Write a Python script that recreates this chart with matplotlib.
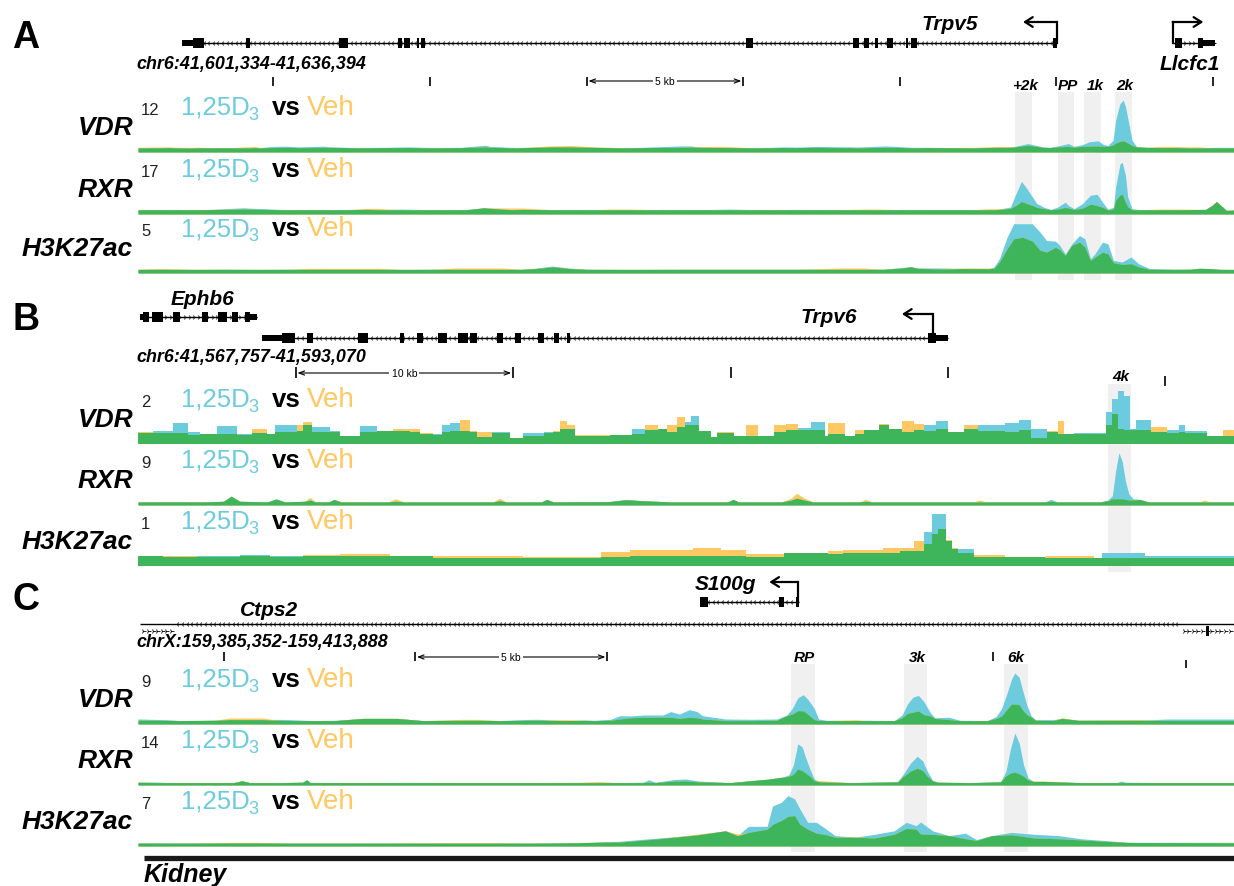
import numpy as np
import matplotlib
matplotlib.use('Agg')
import matplotlib.pyplot as plt
from matplotlib.patches import Rectangle

plt.rcParams['font.family'] = ['Liberation Sans', 'DejaVu Sans']

W, H = 1234, 887
CYAN = '#6ccbdc'
ORANGE = '#ffc862'
GREEN = '#3fb55b'
BAND = '#f0f0f0'

# ------------------------------------------------------------------ data
TRACK_NAMES = ['VDR', 'RXR', 'H3K27ac']
SCALE_A = [12, 17, 5]
SCALE_B = [2, 9, 1]
SCALE_C = [9, 14, 7]

COORD_A = 'chr6:41,601,334-41,636,394'
COORD_B = 'chr6:41,567,757-41,593,070'
COORD_C = 'chrX:159,385,352-159,413,888'

# positions are % of the browser window
A_VDR_X = [0, 1.9, 2.8, 3.5, 4.8, 5.5, 6.1, 8.0, 10.3, 10.7, 11.0, 12.3, 13.5, 14.6, 16.2,
           16.9, 17.5, 20.0, 22.5, 24.7, 27.0, 29.5, 31.2, 31.7, 32.1, 34.5, 37.7, 39.5, 41.6,
           44.0, 46.5, 49.5, 50.4, 51.7, 53.6, 56.0, 59.1, 60.1, 62.0, 63.0, 65.0, 65.6, 68.2,
           69.1, 70.7, 72.0, 75.3, 76.2, 78.5, 79.5,
           80.0, 81.2, 82.0, 82.6, 83.2, 83.9, 84.9, 85.4, 86.2, 86.8, 87.6, 88.1, 88.5, 88.96,
           89.2, 89.6, 89.9, 90.1, 90.4, 90.7, 91.1, 92.0, 93.2, 94.6, 95.9, 96.8, 98.0, 100]
A_VDR_D3 = [0.9, 0.9, 0.95, 0.9, 0.85, 0.9, 0.9, 0.95, 0.9, 0.95, 0.9, 1.2, 1.25, 1.1, 1.2,
            1.25, 1.1, 0.95, 1.0, 1.1, 0.95, 1.0, 1.35, 1.45, 1.2, 0.95, 1.1, 1.1, 1.0, 0.9,
            1.05, 1.3, 1.3, 1.0, 0.95, 0.9, 1.1, 1.05, 1.2, 1.15, 1.1, 1.05, 1.3, 1.2, 1.0,
            1.0, 0.9, 0.9, 1.0, 1.0,
            1.2, 1.8, 1.4, 1.1, 1.0, 1.3, 1.8, 1.2, 1.6, 2.2, 2.4, 1.6, 1.4, 2.5, 6.8,
            10.4, 11.1, 9.7, 6.1, 2.5, 1.2, 1.0, 0.95, 0.95, 0.9, 0.9, 1.0, 1.0]
A_VDR_VEH = [1.0, 1.08, 1.1, 1.0, 1.0, 1.05, 0.95, 0.9, 1.15, 1.2, 1.0, 0.95, 1.0, 0.95, 0.95,
             1.0, 1.0, 0.9, 0.95, 0.95, 0.9, 0.95, 1.05, 1.1, 1.0, 0.9, 1.3, 1.4, 1.1, 0.95,
             0.95, 1.0, 1.05, 1.2, 1.2, 0.9, 0.95, 0.95, 1.0, 0.95, 0.95, 0.9, 1.0, 1.0, 0.9,
             0.95, 1.0, 1.0, 1.2, 1.15,
             1.1, 1.45, 1.2, 1.0, 0.95, 1.1, 1.2, 1.05, 1.2, 1.25, 1.3, 1.2, 1.2, 1.5, 1.9,
             2.3, 2.4, 2.2, 1.8, 1.4, 1.1, 1.0, 1.2, 1.2, 1.1, 1.1, 0.9, 0.9]

A_RXR_X = [0, 3, 6, 9.7, 10.0, 13, 16, 19, 20.8, 21.7, 24, 27, 30, 31.6, 31.8, 34.1, 35.1, 38,
           41, 43.2, 44.9, 48, 51, 54, 57, 60, 63, 66.3, 67.5, 70, 73, 76, 77.6, 78.2, 79.6,
           80.1, 80.6, 81.0, 81.6, 82.0, 82.7, 83.3, 83.9, 84.6, 84.9, 85.4, 86.2, 86.9, 87.5,
           88.0, 88.5, 89.0, 89.2, 89.6, 89.8, 90.1, 90.3, 90.7, 91.5, 93.0, 95.3, 97.4, 98.0,
           98.4, 98.8, 99.3, 100]
A_RXR_D3 = [1.3, 1.4, 1.3, 1.9, 1.8, 1.4, 1.3, 1.4, 1.4, 1.3, 1.5, 1.3, 1.4, 1.9, 1.8, 1.3, 1.4,
            1.3, 1.4, 1.3, 1.3, 1.4, 1.3, 1.5, 1.3, 1.4, 1.3, 1.3, 1.3, 1.4, 1.3, 1.3, 1.3, 1.3,
            2.1, 6.1, 9.9, 8.2, 5.2, 3.2, 2.0, 1.4, 2.1, 3.6, 2.6, 1.6, 3.2, 5.7, 6.0, 3.6, 1.4,
            2.1, 8.2, 15.2, 15.7, 11.7, 5.2, 1.6, 1.3, 1.3, 1.3, 1.4, 2.6, 3.8, 2.6, 1.1, 1.2]
A_RXR_VEH = [1.3, 1.3, 1.4, 1.5, 1.5, 1.3, 1.4, 1.3, 1.7, 1.7, 1.3, 1.4, 1.3, 1.9, 1.9, 1.8,
             1.8, 1.3, 1.3, 1.5, 1.5, 1.3, 1.3, 1.3, 1.4, 1.3, 1.3, 1.5, 1.5, 1.3, 1.3, 1.3,
             1.6, 1.6, 1.7, 2.6, 3.8, 3.3, 2.6, 2.0, 1.6, 1.3, 1.5, 2.0, 1.8, 1.4, 1.8, 3.0,
             2.6, 2.0, 1.3, 1.5, 4.2, 5.8, 6.0, 3.6, 2.2, 1.3, 1.3, 1.5, 1.5, 1.4, 2.7, 3.9,
             2.7, 1.2, 1.2]

A_H3_X = [0, 2, 5, 8, 11, 14, 15.6, 22.1, 24, 27, 28.9, 33.1, 35, 36.4, 37.8, 39.3, 41, 45, 50,
          55, 60, 64.2, 66.2, 68, 69.8, 70.5, 71.1, 73.3, 75.3, 77.6, 78.1, 78.6, 79.3, 79.9,
          80.7, 81.6, 82.3, 82.9, 83.7, 84.1, 84.6, 85.2, 85.9, 86.4, 86.9, 87.3, 88.0, 88.5,
          89.0, 89.8, 90.6, 91.3, 92.3, 94.5, 96.0, 96.8, 97.8, 98.6, 100]
A_H3_D3 = [0.32, 0.33, 0.32, 0.33, 0.32, 0.33, 0.33, 0.33, 0.32, 0.33, 0.33, 0.33, 0.33, 0.45,
           0.62, 0.45, 0.33, 0.32, 0.33, 0.33, 0.33, 0.33, 0.33, 0.34, 0.5, 0.58, 0.45, 0.45,
           0.4, 0.38, 0.55, 1.28, 3.2, 4.4, 4.4, 4.4, 3.65, 2.9, 2.85, 2.47, 1.7, 2.6, 3.35,
           3.05, 1.28, 1.7, 2.76, 2.6, 1.13, 0.98, 1.43, 0.83, 0.4, 0.33, 0.35, 0.42, 0.4,
           0.33, 0.32]
A_H3_VEH = [0.35, 0.40, 0.34, 0.33, 0.33, 0.33, 0.42, 0.42, 0.33, 0.33, 0.45, 0.45, 0.33,
            0.40, 0.55, 0.40, 0.33, 0.33, 0.33, 0.33, 0.33, 0.45, 0.45, 0.33, 0.45, 0.55,
            0.42, 0.35, 0.45, 0.45, 0.42, 0.98, 2.17, 3.05, 3.2, 2.85, 2.03, 1.87, 2.3, 2.1,
            1.57, 2.47, 2.76, 2.3, 1.13, 1.4, 1.87, 1.7, 0.92, 0.77, 0.83, 0.55, 0.33, 0.33,
            0.33, 0.42, 0.4, 0.33, 0.32]

# panel B VDR and H3K27ac are drawn as steps (bin left edges, last value repeated)
B_VDR_X = [0, 1.4, 3.2, 4.6, 5.7, 7.2, 9.0, 10.4, 11.8, 12.5, 14.5, 15.1, 15.9, 17.5, 18.4,
           20.3, 21.8, 23.3, 24.8, 25.7, 26.9, 27.7, 28.5, 29.4, 30.3, 30.9, 32.3, 33.9, 35.1,
           37.0, 37.9, 38.5, 39.1, 39.9, 43.1, 45.1, 46.3, 47.4, 48.3, 49.2, 49.9, 50.5, 51.2,
           52.3, 52.8, 54.4, 55.5, 56.6, 58.0, 59.1, 60.2, 61.4, 62.7, 63.0, 64.5, 65.4, 66.2,
           67.6, 68.5, 69.7, 70.8, 71.7, 72.8, 73.9, 75.4, 76.6, 79.1, 80.4, 81.5, 82.9, 83.9,
           84.5, 85.4, 88.3, 88.9, 89.4, 90.0, 90.5, 91.1, 92.4, 93.9, 95.0, 95.5, 97.5, 99.0,
           100]
B_VDR_D3 = [.40, .48, .75, .42, .36, .64, .36, .39, .36, .67, .45, .67, .61, .48, .30, .64,
            .48, .48, .42, .36, .36, .67, .76, .45, .42, .24, .42, .21, .40, .42, .42, .55,
            .55, .28, .33, .55, .49, .55, .42, .61, .79, 1.0, .48, .24, .40, .30, .30, .27,
            .42, .49, .58, .79, .30, .36, .30, .36, .49, .67, .55, .42, .49, .67, .82, .42,
            .55, .67, .76, .85, .55, .42, .36, .36, .40, 1.14, 1.6, 1.88, 1.7, .55, .85, .42,
            .49, .67, .45, .30, .30, .30]
B_VDR_VEH = [.42, .40, .40, .33, .36, .36, .33, .55, .36, .42, .67, .79, .42, .42, .28, .42,
             .46, .55, .55, .39, .33, .42, .48, .85, .48, .42, .40, .21, .30, .40, .48, .82,
             .67, .33, .33, .36, .67, .55, .67, .97, .67, .69, .45, .24, .42, .30, .67, .30,
             .67, .70, .49, .49, .30, .75, .30, .49, .49, .73, .55, .82, .73, .45, .55, .42,
             .67, .45, .42, .49, .21, .45, .82, .36, .36, .67, 1.07, .55, .49, .49, .49, .61,
             .40, .42, .40, .30, .49, .49]

B_RXR_X = [0, 3, 6, 7.8, 8.5, 9.3, 11.8, 12.6, 13.4, 15.2, 15.7, 16.2, 17.4, 17.9, 18.5, 22.8,
           23.5, 24.3, 32.4, 33.0, 33.6, 36.8, 37.3, 37.9, 43.0, 44.5, 46.0, 48.5, 53.8, 54.3,
           54.8, 58.7, 59.6, 60.1, 60.8, 61.6, 65.8, 66.4, 67.0, 76.2, 76.8, 77.4, 82.7, 83.3,
           83.9, 87.8, 88.5, 88.9, 89.2, 89.5, 89.8, 90.1, 90.4, 90.8, 91.4, 92.2, 96.8, 97.3,
           97.8, 100]
B_RXR_D3 = [.5, .55, .5, .6, 1.45, .6, .5, 1.0, .5, .6, .8, .55, .5, .9, .5, .5, .6, .5, .5,
            .7, .5, .5, .9, .5, .55, .9, .7, .5, .5, .9, .5, .5, .8, 1.1, .8, .5, .5, .6, .5,
            .5, .5, .5, .5, .9, .5, .5, .8, 1.5, 5.5, 8.4, 7.0, 3.8, 1.8, 1.0, .9, .5, .5, .5,
            .5, .5]
B_RXR_VEH = [.5, .5, .5, .6, 1.4, .6, .5, .95, .5, .6, 1.2, .5, .5, .9, .55, .5, 1.0, .5, .5,
             1.1, .5, .5, .9, .5, .55, .85, .7, .5, .5, .9, .5, .5, 1.1, 1.9, 1.1, .5, .5, .9,
             .5, .5, .8, .5, .5, .6, .5, .5, .7, 1.0, 1.0, 1.0, 1.0, .9, .8, .8, .9, .5, .5,
             .8, .5, .5]

B_H3_X = [0, 2.3, 5.4, 9.3, 12.0, 15.1, 18.4, 23.0, 26.9, 35.1, 42.2, 44.9, 50.6, 53.2, 55.5,
          58.9, 63.0, 64.3, 68.0, 69.5, 70.8, 71.7, 72.4, 73.0, 73.7, 74.3, 74.8, 76.3, 79.1,
          82.8, 87.2, 88.0, 91.9, 93.2, 100]
B_H3_D3 = [.18, .16, .17, .20, .17, .17, .17, .17, .15, .14, .16, .18, .18, .18, .16, .23,
           .21, .23, .23, .26, .27, .60, .93, .93, .44, .30, .30, .16, .16, .15, .15, .23,
           .17, .17, .17]
B_H3_VEH = [.18, .17, .16, .17, .16, .19, .21, .17, .18, .16, .25, .29, .33, .29, .21, .23,
            .27, .29, .33, .33, .45, .39, .57, .66, .47, .33, .23, .20, .16, .17, .15, .15,
            .15, .14, .14]

C_VDR_X = [0, 2.3, 4, 7, 8.4, 11.4, 12.7, 13.9, 16, 18, 20.5, 23.6, 26, 29.7, 30.9, 33, 35.8,
           36.7, 39, 40.8, 41.7, 43.1, 44.0, 45.0, 46.1, 47.9, 48.6, 49.4, 50.3, 51.0, 51.5,
           53.6, 56, 58.3, 59.2, 59.7, 60.2, 60.7, 61.1, 61.7, 62.1, 62.8, 65.5, 66.5, 69.0,
           69.7, 70.2, 70.7, 71.2, 71.7, 72.3, 72.7, 74, 75.0, 77.5, 78.3, 78.8, 79.3, 79.7,
           80.0, 80.4, 80.7, 81.1, 81.5, 81.9, 83.5, 84.3, 85.8, 88, 91, 94.0, 97, 100]
C_VDR_D3 = [.81, .7, .55, .6, .7, .7, .75, .7, .55, .6, .9, .9, .55, .6, .6, .55, .75, .75,
            .55, .6, .6, .75, 1.34, 1.3, 1.45, 1.45, 1.99, 1.6, 2.3, 2.0, 1.34, .8, .75, .8,
            1.45, 2.5, 4.2, 4.7, 4.0, 2.5, .8, .6, .55, .6, .55, 1.4, 3.2, 4.3, 4.6, 3.6, 1.8,
            1.0, 1.08, .6, .55, 1.2, 2.5, 5.0, 7.2, 8.2, 7.5, 5.5, 3.0, 1.3, .7, .7, .9, .6,
            .6, .6, .8, .8, .8]
C_VDR_VEH = [.6, .6, .55, .6, .97, .97, .6, .55, .55, .55, .92, .92, .55, .75, .75, .55, .6,
             .6, .7, .6, .55, .6, .8, 1.0, 1.08, 1.08, 1.08, .9, 1.08, 1.0, .8, .54, .54, .6,
             1.34, 1.6, 2.15, 2.1, 1.6, .7, .55, .55, .7, .55, .55, 1.0, 1.7, 1.9, 2.1, 1.5,
             1.3, .9, .7, .55, .55, .9, 1.3, 2.4, 3.2, 3.2, 3.1, 2.3, 1.5, 1.1, .6, .55, 1.0,
             .6, .65, .7, .55, .55, .55]

C_RXR_X = [0, 1.5, 3, 6, 8.7, 9.5, 10.2, 13, 15.0, 15.4, 15.7, 20, 25, 30, 35, 40.3, 41.9, 44,
           46.1, 46.6, 47.2, 49.0, 50.0, 51.1, 54, 57.6, 58.9, 59.4, 59.8, 60.2, 60.6, 60.9,
           61.3, 61.7, 62.2, 65, 69.3, 69.9, 70.5, 71.1, 71.6, 72.0, 72.5, 73.0, 76, 78.7,
           79.2, 79.6, 80.0, 80.4, 80.8, 81.2, 81.7, 82.6, 86, 89.3, 89.7, 90.1, 93, 96, 100]
C_RXR_D3 = [.7, .75, .6, .6, .6, 1.08, .6, .6, .7, 1.33, .65, .6, .65, .6, .6, .6, .6, .6, .7,
            1.3, .7, 1.4, 1.5, 1.0, .6, 1.5, 2.0, 2.6, 5.0, 10.3, 9.5, 7.0, 4.0, 1.5, .8, .6,
            .8, 3.0, 5.5, 7.2, 6.0, 3.5, 1.2, .7, .6, .8, 3.5, 9.0, 13.0, 10.5, 5.0, 1.8, .9,
            .9, .6, .6, 1.0, .7, .6, .6, .6]
C_RXR_VEH = [.75, .6, .6, .6, .6, 1.05, .6, .6, .7, 1.3, .6, .6, .6, .6, .6, .7, .85, .6, .6,
             .7, .6, 1.0, 1.0, .8, .6, 1.5, 2.0, 2.2, 2.7, 4.0, 3.6, 3.0, 2.2, 1.1, 1.1, .6,
             .8, 2.3, 3.5, 4.2, 3.6, 2.2, 1.0, .7, .6, .8, 2.3, 3.0, 3.2, 2.8, 2.2, 1.3, 1.0,
             1.0, .6, .6, .6, .6, .6, .6, .6]

C_H3_X = [0, 5, 8.4, 10.9, 14, 20, 27.6, 32.8, 36, 40, 42.5, 44.0, 47.5, 51.1, 53.6, 54.7,
          55.7, 57.4, 57.9, 58.7, 59.3, 59.9, 60.4, 61.1, 61.9, 62.6, 63.6, 65.4, 67.2, 69.0,
          70.1, 71.0, 71.4, 72.5, 74.0, 75.5, 76.5, 77.9, 79.7, 81.8, 84.0, 86.1, 90.4, 95, 100]
C_H3_D3 = [.4, .38, .38, .38, .36, .36, .36, .36, .36, .4, .5, .6, 1.0, 1.4, 1.9, 1.3, 2.46,
           2.46, 5.0, 5.46, 6.3, 5.9, 4.6, 2.96, 2.96, 2.3, 1.3, 1.1, 1.46, 1.9, 2.96, 2.54,
           3.0, 1.9, 1.3, 1.6, .8, 1.3, 1.7, 1.46, 1.3, .9, .46, .46, .46]
C_H3_VEH = [.36, .36, .46, .46, .36, .36, .42, .42, .36, .4, .5, .5, .9, 1.5, 1.9, 1.5, 1.7,
            2.1, 2.7, 3.2, 3.7, 3.8, 2.7, 2.1, 1.6, 1.46, 1.1, 1.15, 1.0, 1.46, 2.2, 2.1, 1.5,
            1.46, 1.3, .9, .7, 1.3, 1.4, 1.0, .9, .75, .44, .42, .4]

# gene models (% of window)
TRPV5_SPAN = (4.0, 83.85)
TRPV5_EXONS = [(5.0, 6.0), (9.85, 10.2), (18.3, 19.2), (23.7, 24.1), (24.3, 24.8), (25.5, 25.65),
               (25.8, 26.2), (55.5, 56.1), (65.2, 65.8), (66.2, 66.7), (67.2, 67.5), (68.3, 68.9),
               (70.1, 70.3), (70.5, 71.1), (83.5, 83.85)]
TRPV5_UTR = [(4.0, 5.0)]
LLCFC1_SPAN = (94.4, 98.3)
LLCFC1_EXONS = [(94.6, 95.3), (96.7, 97.2)]
LLCFC1_UTR = [(97.2, 98.3)]
EPHB6_SPAN = (0.2, 10.9)
EPHB6_EXONS = [(0.45, 1.0), (1.3, 2.3), (3.2, 3.8), (5.8, 6.4), (7.3, 8.1), (8.6, 9.1), (9.8, 10.2)]
EPHB6_UTR = [(0.2, 0.45), (10.2, 10.9)]
TRPV6_SPAN = (11.3, 73.9)
TRPV6_EXONS = [(13.1, 14.3), (15.4, 16.0), (20.1, 21.0), (23.9, 24.3), (25.5, 26.0), (27.4, 28.2),
               (29.2, 30.1), (30.3, 30.9), (32.8, 33.3), (34.4, 34.9), (36.5, 37.0), (38.0, 38.4),
               (39.1, 39.4), (72.1, 72.8)]
TRPV6_UTR = [(11.3, 13.1), (72.8, 73.9)]
S100G_SPAN = (51.3, 60.3)
S100G_EXONS = [(51.3, 52.0), (58.5, 58.9), (60.0, 60.3)]
CTPS2_SPAN = (0.2, 100)
CTPS2_CHEVRONS = (3.3, 94.9)
CTPS2_LOWER = [(0.2, 3.3), (95.1, 100)]
CTPS2_LOWER_EXON = (97.4, 97.7)

TICKS_A = [12.3, 26.6, 40.95, 55.2, 69.5, 83.8, 98.1]
TICKS_B = [14.4, 34.2, 54.1, 73.9]
TICKS_B_LOW = [93.7]
TICKS_C = [7.85, 25.3, 42.8, 78.0]
TICKS_C_LOW = [95.6]

BANDS_A = [(80.0, 81.6), (83.9, 85.4), (86.3, 87.9), (89.1, 90.7)]
BANDS_B = [(88.5, 90.6)]
BANDS_C = [(59.6, 61.8), (69.9, 72.0), (79.0, 81.2)]
LABELS_A = [('+2k', 80.9), ('PP', 84.85), ('1k', 87.3), ('2k', 90.0)]
LABELS_B = [('4k', 89.7)]
LABELS_C = [('RP', 60.8), ('3k', 71.1), ('6k', 80.1)]

# ------------------------------------------------------------------ layout
fig = plt.figure(figsize=(W / 100, H / 100), dpi=100)
X0, XW = 138, 1096
TRACK_H = 56


def fx(px):
    return px / W


def fy(py):
    return 1 - py / H


ov = fig.add_axes([fx(X0), 0, XW / W, 1])
ov.set_xlim(0, 100)
ov.set_ylim(H, 0)
ov.axis('off')


def draw_track(bottom, x, d3, veh, ymax, step=False):
    ax = fig.add_axes([fx(X0), fy(bottom), XW / W, TRACK_H / H])
    ax.set_xlim(0, 100)
    ax.set_ylim(0, ymax)
    ax.axis('off')
    x = np.asarray(x, float)
    d3 = np.asarray(d3, float)
    veh = np.asarray(veh, float)
    lo = np.minimum(d3, veh)
    kw = dict(step='post') if step else {}
    ax.fill_between(x, 0, d3, color=CYAN, lw=0, **kw)
    ax.fill_between(x, 0, veh, color=ORANGE, lw=0, **kw)
    ax.fill_between(x, 0, lo, color=GREEN, lw=0, **kw)


def gene(y, span, exons, utrs, strand, chev=None, line=True):
    if line:
        ov.plot(span, [y, y], color='k', lw=1.0, solid_capstyle='butt')
    cs, ce = chev if chev else span
    pos = np.arange(cs + 0.3, ce - 0.15, 0.42)
    ov.plot(pos, np.full(pos.size, y), ls='none', marker='3' if strand < 0 else '4',
            ms=3.6, mew=0.6, color='k')
    for s, e in exons:
        ov.add_patch(Rectangle((s, y - 5), e - s, 10, color='k', lw=0))
    for s, e in utrs:
        ov.add_patch(Rectangle((s, y - 3), e - s, 6, color='k', lw=0))


def tss(x, y, x_end, rise):
    ov.plot([x, x], [y, y - rise], color='k', lw=1.6)
    ov.annotate('', xy=(x_end, y - rise), xytext=(x, y - rise),
                arrowprops=dict(arrowstyle='->,head_length=0.55,head_width=0.35', lw=1.6,
                                color='k', shrinkA=0, shrinkB=0))


def gtext(x, y, s, size=15, ha='center'):
    ov.text(x, y, s, fontsize=size, fontweight='bold', style='italic', ha=ha, va='center')


def scale_bar(a, b, y, s):
    ov.annotate('', xy=(a + 0.15, y), xytext=(b - 0.15, y),
                arrowprops=dict(arrowstyle='<->,head_length=0.4,head_width=0.15', lw=0.8,
                                color='k', shrinkA=0, shrinkB=0))
    ov.text((a + b) / 2, y, s, fontsize=7.5, ha='center', va='center',
            bbox=dict(facecolor='white', edgecolor='none', pad=1.5))


def bands(lst, y0, y1):
    for a, b in lst:
        ov.add_patch(Rectangle((a, y0), b - a, y1 - y0, color=BAND, lw=0, zorder=0))


def peak_labels(lst, y):
    for s, x in lst:
        ov.text(x, y, s, fontsize=11, fontweight='bold', style='italic', ha='center',
                va='center')


def track_texts(bottoms, scales):
    for name, b, sc in zip(TRACK_NAMES, bottoms, scales):
        fig.text(fx(133), fy(b - 18), name, ha='right', va='baseline', fontsize=19,
                 fontweight='bold', style='italic')
        fig.text(fx(141), fy(b - 38), str(sc), fontsize=12, va='baseline', color='#222222')
        fig.text(fx(181), fy(b - 38), '1,25D', fontsize=18.5, va='baseline', color=CYAN)
        fig.text(fx(248), fy(b - 33), '3', fontsize=13, va='baseline', color=CYAN)
        fig.text(fx(272), fy(b - 38), 'vs', fontsize=18.5, va='baseline', fontweight='bold')
        fig.text(fx(307), fy(b - 38), 'Veh', fontsize=20, va='baseline', color=ORANGE)


# ---------------- panel A
fig.text(fx(12), fy(48), 'A', fontsize=27, fontweight='bold', va='baseline')
bands(BANDS_A, 93, 281)
gene(44, TRPV5_SPAN, TRPV5_EXONS, TRPV5_UTR, -1)
tss(TRPV5_SPAN[1], 44, 80.75, 21)
gtext(74.1, 25, 'Trpv5')
gene(44, LLCFC1_SPAN, LLCFC1_EXONS, LLCFC1_UTR, +1)
tss(LLCFC1_SPAN[0], 44, 97.2, 21)
gtext(96.0, 64, 'Llcfc1')
gtext(-0.1, 64, COORD_A, size=12.9, ha='left')
ov.vlines(TICKS_A, 78, 87, color='k', lw=1.2)
scale_bar(TICKS_A[2], TICKS_A[3], 82, '5 kb')
peak_labels(LABELS_A, 86)
A_BOT = [153, 215, 274]
draw_track(A_BOT[0], A_VDR_X, A_VDR_D3, A_VDR_VEH, SCALE_A[0])
draw_track(A_BOT[1], A_RXR_X, A_RXR_D3, A_RXR_VEH, SCALE_A[1])
draw_track(A_BOT[2], A_H3_X, A_H3_D3, A_H3_VEH, SCALE_A[2])
track_texts(A_BOT, SCALE_A)

# ---------------- panel B
fig.text(fx(12), fy(330), 'B', fontsize=27, fontweight='bold', va='baseline')
bands(BANDS_B, 385, 573)
gene(318, EPHB6_SPAN, EPHB6_EXONS, EPHB6_UTR, +1)
gtext(5.85, 300, 'Ephb6')
gene(339, TRPV6_SPAN, TRPV6_EXONS, TRPV6_UTR, -1)
tss(72.5, 339, 69.7, 24)
gtext(63.0, 318, 'Trpv6')
gtext(-0.1, 358, COORD_B, size=12.9, ha='left')
ov.vlines(TICKS_B, 368, 379, color='k', lw=1.2)
ov.vlines(TICKS_B_LOW, 377, 387, color='k', lw=1.2)
scale_bar(TICKS_B[0], TICKS_B[1], 374, '10 kb')
peak_labels(LABELS_B, 377)
B_BOT = [445, 506, 567]
draw_track(B_BOT[0], B_VDR_X, B_VDR_D3, B_VDR_VEH, SCALE_B[0], step=True)
draw_track(B_BOT[1], B_RXR_X, B_RXR_D3, B_RXR_VEH, SCALE_B[1])
draw_track(B_BOT[2], B_H3_X, B_H3_D3, B_H3_VEH, SCALE_B[2], step=True)
track_texts(B_BOT, SCALE_B)

# ---------------- panel C
fig.text(fx(12), fy(610), 'C', fontsize=27, fontweight='bold', va='baseline')
bands(BANDS_C, 665, 853)
gene(603, S100G_SPAN, S100G_EXONS, [], -1)
tss(S100G_SPAN[1] - 0.1, 603, 57.6, 20)
gtext(53.6, 585, 'S100g')
gene(625, CTPS2_SPAN, [], [], -1, chev=CTPS2_CHEVRONS)
for a, b in CTPS2_LOWER:
    gene(632, (a, b), [], [], +1, line=False)
ov.add_patch(Rectangle((CTPS2_LOWER_EXON[0], 627), CTPS2_LOWER_EXON[1] - CTPS2_LOWER_EXON[0], 10,
                       color='k', lw=0))
gtext(12.0, 611, 'Ctps2')
gtext(-0.1, 643, COORD_C, size=12.9, ha='left')
ov.vlines(TICKS_C, 653, 662, color='k', lw=1.2)
ov.vlines(TICKS_C_LOW, 661, 669, color='k', lw=1.2)
scale_bar(TICKS_C[1], TICKS_C[2], 658, '5 kb')
peak_labels(LABELS_C, 658)
C_BOT = [725, 786, 847]
draw_track(C_BOT[0], C_VDR_X, C_VDR_D3, C_VDR_VEH, SCALE_C[0])
draw_track(C_BOT[1], C_RXR_X, C_RXR_D3, C_RXR_VEH, SCALE_C[1])
draw_track(C_BOT[2], C_H3_X, C_H3_D3, C_H3_VEH, SCALE_C[2])
track_texts(C_BOT, SCALE_C)

# tissue bar
ov.plot([0.55, 100], [859.5, 859.5], color='#1a1a1a', lw=3.8, solid_capstyle='butt')
gtext(0.55, 875, 'Kidney', size=18, ha='left')

fig.savefig('out.png', dpi=100)
